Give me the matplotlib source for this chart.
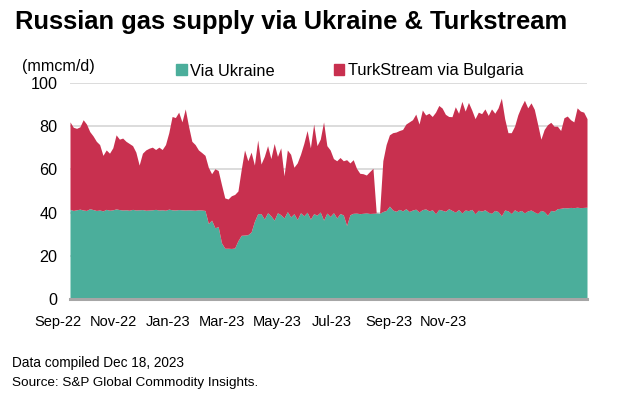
import matplotlib
matplotlib.use("Agg")
import matplotlib.pyplot as plt
import matplotlib.patches as mpatches
import pandas as pd

# ---- data (3-day sampling from 1 Sep 2022) ----
start_date = "2022-09-01"
step_days = 3

via_ukraine = [
    41.5, 41, 41.3, 41.6, 41.2, 41, 41.8, 41.4, 41, 41.2,
    40.8, 41.5, 41.1, 41.3, 41.7, 41.4, 41.2, 41.3, 41.1, 41.5,
    41.2, 41.3, 41.4, 41.1, 41.2, 41.3, 41.5, 41.2, 41.3, 41.1,
    41.6, 41.3, 41.2, 41.4, 41.3, 41.2, 41.3, 41.2, 41.1, 41.3,
    41.2, 41.0,
    35, 36.5, 33, 33.5, 26, 23.5, 23.5, 23.4, 23.6, 27,
    29.5, 29.6, 29.8, 31, 36, 39.5,
    39.5, 37, 40, 38.5, 36.5, 40, 39, 37.5, 40.5, 38,
    39.5, 36.8, 40, 38.5, 40.2, 37, 39.5, 38.8, 40.3, 36.5,
    39.8, 38.2, 40, 37.5, 39.6, 38.9, 34, 39,
    39.7, 39.8, 39.5, 39.7, 39.9, 39.6, 39.7, 39.8, 39.7,
    40.5, 41, 43, 41.2, 40.6, 41.5, 40.8, 41.8, 40.5, 41.2,
    41.6, 40.3, 41.4, 41.7, 40.8, 41.3, 39.5, 41.5, 41.1, 40.6,
    41.8, 41, 40.2, 41.4, 39.8, 41.2, 40.9, 41.5, 39.5, 41.1,
    40.7, 41.3, 40.2, 39.7, 41, 40.5, 38.5, 41.2, 40.8, 39.6,
    41.3, 40.4, 41, 39.9, 40.8, 41.2, 40.3, 39.6, 41, 40.5,
    38.8, 41, 40.7, 41.8, 42, 42.3, 42.2, 42.4, 42.3, 42.5,
    42.3, 42.4, 42.5,
]

# top of the stacked area = Ukraine + TurkStream via Bulgaria
total_flow = [
    82, 79.5, 79, 79.7, 83, 81, 77.5, 75.5, 73, 71.5,
    66.5, 69, 67.5, 70, 76, 74, 74.5, 73, 72, 71,
    68, 62, 67.5, 69, 69.8, 70.3, 69.2, 70.3, 69.2, 71.5,
    77, 84.5, 84, 86.5, 82, 88, 80, 73, 71.5, 69,
    67.8, 66.5, 61, 58, 60.3, 59.5, 53, 46.8, 46.3, 47.8,
    48.4, 50, 60, 69, 64, 68, 62, 73.6, 62.5, 66,
    71, 65, 72, 66, 70, 57, 69, 67, 61, 63,
    67, 72, 78, 70, 81, 71, 74, 82, 71, 69,
    65, 64, 65.5, 64, 64.5, 63, 64.5, 60.5, 58.2, 58,
    57.4, 59, 60.5, 39.7, 39.7, 64, 71.5, 76, 77, 77.3,
    78, 78.5, 81, 82, 83, 85.6, 81, 87.5, 85.2, 86,
    84.5, 86.5, 89.6, 88.4, 85.5, 84.5, 84.4, 89, 86, 91.5,
    87, 91, 87.5, 83.5, 86.5, 85.8, 88, 85, 88, 86,
    88.5, 93, 83.5, 77, 77, 80, 85.3, 89, 92, 88.5,
    90.8, 87.8, 81, 74, 78.5, 80.7, 81.8, 80, 80, 78,
    83.9, 84.7, 83, 82, 88.5, 87, 86.5, 83.5,
]

series_names = ["Via Ukraine", "TurkStream via Bulgaria"]
month_labels = ["Sep-22", "Nov-22", "Jan-23", "Mar-23", "May-23",
                "Jul-23", "Sep-23", "Nov-23"]
y_ticks = [0, 20, 40, 60, 80, 100]

# ---- style ----
TEAL = "#4BAE9B"
RED = "#C8304F"
plt.rcParams["font.family"] = ["Liberation Sans", "DejaVu Sans"]

n = min(len(via_ukraine), len(total_flow))
dates = pd.date_range(start_date, periods=n, freq=f"{step_days}D")

fig = plt.figure(figsize=(6.33, 3.99), dpi=100)
ax = fig.add_axes([70 / 633, 1 - 299 / 399, 517 / 633, 216 / 399])

ax.fill_between(dates, 0, via_ukraine[:n], color=TEAL, lw=0, zorder=2)
ax.fill_between(dates, via_ukraine[:n], total_flow[:n], color=RED, lw=0, zorder=2)

ax.set_xlim(dates[0], dates[-1])
ax.set_ylim(0, 100)
ax.set_yticks(y_ticks)
ax.set_yticklabels([str(v) for v in y_ticks], fontsize=11.6)
ax.tick_params(axis="y", length=0, pad=9)
ax.tick_params(axis="x", length=0)
ax.set_xticks([])
ax.grid(axis="y", color="#D9D9D9", lw=1.3, zorder=0)
for s in ["top", "right", "left"]:
    ax.spines[s].set_visible(False)
ax.spines["bottom"].set_color("#A6A6A6")
ax.spines["bottom"].set_linewidth(2.2)
ax.spines["bottom"].set_zorder(3)

# month labels (as placed in the original graphic)
label_pos = [-0.023, 0.083, 0.190, 0.294, 0.400, 0.507, 0.617, 0.723]
for p, lab in zip(label_pos, month_labels):
    ax.text(p, -0.105, lab, transform=ax.transAxes, ha="center", va="center",
            fontsize=10.5, clip_on=False)

# title, unit, legend, footer
fig.text(15 / 633, 1 - 22 / 399, "Russian gas supply via Ukraine & Turkstream",
         fontsize=18.4, fontweight="bold", ha="left", va="center")
fig.text(22 / 633, 1 - 67 / 399, "(mmcm/d)", fontsize=11.6, ha="left", va="center")

handles = [mpatches.Patch(color=TEAL, label=series_names[0]),
           mpatches.Patch(color=RED, label=series_names[1])]
fig.legend(handles=handles, loc="center left", bbox_to_anchor=(168 / 633, 1 - 71 / 399),
           ncol=2, frameon=False, fontsize=11.8, handlelength=0.65, handleheight=0.65,
           handletextpad=0.2, columnspacing=3.6, borderpad=0)

fig.text(12 / 633, 1 - 363 / 399, "Data compiled Dec 18, 2023", fontsize=9.8, ha="left", va="center")
fig.text(12 / 633, 1 - 383 / 399, "Source: S&P Global Commodity Insights.", fontsize=9.7,
         ha="left", va="center")

fig.savefig("out.png", dpi=100)
